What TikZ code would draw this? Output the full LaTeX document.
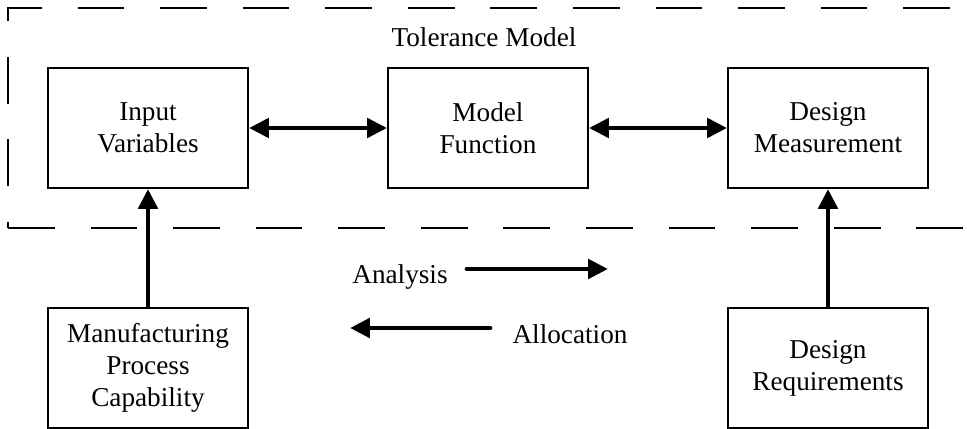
\documentclass[tikz,border=0pt]{standalone}
\usepackage{fontspec}
\setmainfont{Liberation Serif}
\usetikzlibrary{arrows.meta}

\begin{document}
\begin{tikzpicture}[x=0.02cm,y=-0.02cm,
    every node/.style={font=\fontsize{15.5}{18.1}\selectfont},
    block/.style={draw,line width=1.1pt,minimum width=4cm,minimum height=2.4cm,align=center,inner sep=0pt},
    link/.style={line width=2.8pt},
    frame/.style={line width=1.1pt,dash pattern=on 26.6pt off 20.4pt},
    >={Triangle[length=11.3pt,width=10.8pt]}]

      \clip (0,0) rectangle (967,429);

      % tolerance model frame, open on the right
      \draw[frame,dash phase=23.2pt] (8,228) -- (8,8) -- (1000,8);
      \draw[frame] (8,228) -- (1000,228);
      \node[anchor=base] (title) at (484,47) {Tolerance Model};

      \node[block] (input) at (148,128) {Input\\Variables};
      \node[block] (model) at (488,128) {Model\\Function};
      \node[block] (meas) at (828,128) {Design\\Measurement};
      \node[block] (mfg) at (148,368) {Manufacturing\\Process\\Capability};
      \node[block] (req) at (828,368) {Design\\Requirements};

      \draw[link,<->] (input) -- (model);
      \draw[link,<->] (model) -- (meas);
      \draw[link,->] (mfg) -- (input);
      \draw[link,->] (req) -- (meas);

      \node[anchor=base] (analysis) at (400,283) {Analysis};
      \node[anchor=base] (allocation) at (570,343) {Allocation};
      \coordinate (ana-a) at (467,269);
      \coordinate (ana-b) at (608,269);
      \coordinate (all-a) at (490,328);
      \coordinate (all-b) at (350,328);
      \draw[link,->,line cap=round] (ana-a) -- (ana-b);
      \draw[link,->,line cap=round] (all-a) -- (all-b);
    \end{tikzpicture}
\end{document}
